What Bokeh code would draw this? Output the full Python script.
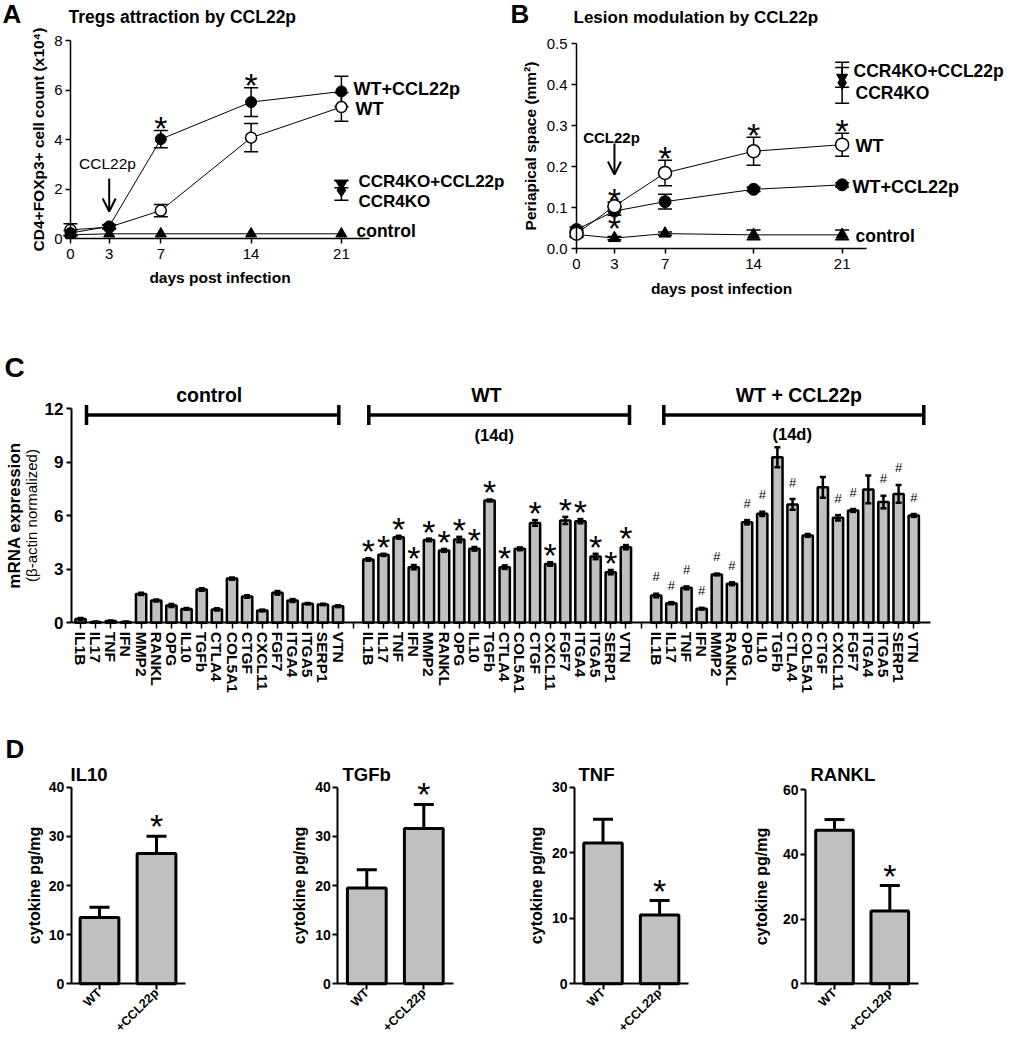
import math
from bokeh.plotting import figure
from bokeh.models import (Range1d, LinearAxis, FixedTicker, Label, Arrow, OpenHead,
                          PrintfTickFormatter)
from bokeh.layouts import row, column
from bokeh.embed import file_html
from bokeh.resources import INLINE
from bokeh.core.properties import value

FONT = "Liberation Sans"
BAR_FILL = "#c0c0c0"

# ---------------- Panel A data ----------------
days = [0, 3, 7, 14, 21]
a_yticks = [0, 2, 4, 6, 8]
a_wt_ccl = [0.22, 0.49, 4.02, 5.52, 5.95]
a_wt_ccl_err = [0.10, 0.08, 0.35, 0.58, 0.62]
a_wt = [0.35, 0.46, 1.13, 4.08, 5.32]
a_wt_err = [0.25, 0.08, 0.25, 0.57, 0.58]
a_ctrl = [0.15, 0.19, 0.19, 0.19, 0.19]
a_ko_ccl = [2.20]
a_ko_ccl_err = [0.15]
a_ko = [1.95]
a_ko_err = [0.40]
a_star_days = [7, 14]

# ---------------- Panel B data ----------------
b_yticks = [0.0, 0.1, 0.2, 0.3, 0.4, 0.5]
b_wt = [0.037, 0.104, 0.185, 0.238, 0.254]
b_wt_err = [0.008, 0.010, 0.031, 0.034, 0.028]
b_wt_ccl = [0.047, 0.092, 0.115, 0.145, 0.156]
b_wt_ccl_err = [0.006, 0.010, 0.018, 0.005, 0.005]
b_ctrl = [0.035, 0.026, 0.037, 0.034, 0.034]
b_ctrl_err = [0.005, 0.004, 0.004, 0.012, 0.012]
b_ko_ccl = [0.418]
b_ko_ccl_err = [0.024]
b_ko = [0.405]
b_ko_err = [0.050]
b_star_days_up = [3, 7, 14, 21]
b_star_days_down = [3]

# ---------------- Panel C data ----------------
genes = ["IL1B", "IL17", "TNF", "IFN", "MMP2", "RANKL", "OPG", "IL10", "TGFb",
         "CTLA4", "COL5A1", "CTGF", "CXCL11", "FGF7", "ITGA4", "ITGA5", "SERP1", "VTN"]
c_yticks = [0, 3, 6, 9, 12]
c_ctrl = [0.22, 0.05, 0.10, 0.05, 1.62, 1.25, 0.97, 0.78, 1.87, 0.75, 2.48, 1.48,
          0.69, 1.68, 1.25, 1.07, 1.03, 0.93]
c_ctrl_err = [0.05, 0.02, 0.03, 0.02, 0.06, 0.06, 0.08, 0.05, 0.07, 0.06, 0.06, 0.07,
              0.05, 0.10, 0.08, 0.04, 0.04, 0.05]
c_wt = [3.55, 3.81, 4.80, 3.12, 4.65, 4.06, 4.67, 4.15, 6.86, 3.12, 4.15, 5.60,
        3.30, 5.74, 5.70, 3.72, 2.84, 4.24]
c_wt_err = [0.07, 0.06, 0.08, 0.12, 0.07, 0.08, 0.15, 0.10, 0.06, 0.10, 0.08, 0.16,
            0.10, 0.20, 0.12, 0.15, 0.12, 0.12]
c_wt_star = [1, 1, 1, 1, 1, 1, 1, 1, 1, 1, 0, 1, 1, 1, 1, 1, 1, 1]
c_ccl = [1.53, 1.10, 1.96, 0.79, 2.71, 2.19, 5.64, 6.11, 9.29, 6.64, 4.90, 7.60,
         5.89, 6.30, 7.48, 6.77, 7.23, 6.02]
c_ccl_err = [0.10, 0.06, 0.08, 0.05, 0.05, 0.08, 0.12, 0.12, 0.56, 0.30, 0.08, 0.58,
             0.15, 0.08, 0.78, 0.35, 0.50, 0.08]
c_ccl_hash = [1, 1, 1, 1, 1, 1, 1, 1, 0, 1, 0, 0, 1, 1, 0, 1, 1, 1]
c_groups = ["control", "WT", "WT + CCL22p"]

# ---------------- Panel D data ----------------
d_names = ["IL10", "TGFb", "TNF", "RANKL"]
d_cats = ["WT", "+CCL22p"]
d_wt = [13.5, 19.5, 21.5, 47.5]
d_wt_err = [2.1, 3.7, 3.6, 3.3]
d_ccl = [26.5, 31.6, 10.5, 22.5]
d_ccl_err = [3.5, 4.9, 2.2, 7.9]
d_yticks = [[0, 10, 20, 30, 40], [0, 10, 20, 30, 40], [0, 10, 20, 30], [0, 20, 40, 60]]


# ---------------- helpers ----------------
def make_fig(Lf, W, ox, sx, Tf, H, oy, sy):
    """Figure whose frame is the whole canvas; pixel -> data maps."""
    p = figure(width=W, height=H,
               x_range=Range1d((Lf - ox) / sx, (Lf + W - ox) / sx),
               y_range=Range1d((oy - (Tf + H)) / sy, (oy - Tf) / sy),
               output_backend="svg", toolbar_location=None, title=None,
               x_axis_type=None, y_axis_type=None,
               min_border_left=0, min_border_right=0, min_border_top=0,
               min_border_bottom=0, outline_line_color=None,
               background_fill_color="white", border_fill_color="white")
    return p, (lambda px: (px - ox) / sx), (lambda py: (oy - py) / sy)


def style_axis(ax, size, bold, tick_out, standoff, lw=1.5, tick_lw=None,
               lab_size=15.5, lab_standoff=5):
    ax.axis_line_color = "black"
    ax.axis_line_width = lw
    ax.major_tick_line_color = "black"
    ax.major_tick_line_width = tick_lw if tick_lw else lw
    ax.major_tick_out = tick_out
    ax.major_tick_in = 0
    ax.minor_tick_line_color = None
    ax.major_label_text_font = FONT
    ax.major_label_text_font_size = f"{size}px"
    ax.major_label_text_font_style = "bold" if bold else "normal"
    ax.major_label_text_color = "black"
    ax.major_label_standoff = standoff
    ax.axis_label_text_font = FONT
    ax.axis_label_text_font_size = f"{lab_size}px"
    ax.axis_label_text_font_style = "bold"
    ax.axis_label_text_color = "black"
    ax.axis_label_standoff = lab_standoff


def label(p, x, y, text, size, bold=True, align="left", baseline="middle", angle=0.0):
    p.add_layout(Label(x=x, y=y, text=text, text_font=FONT, text_font_size=f"{size}px",
                       text_font_style="bold" if bold else "normal", text_color="black",
                       text_align=align, text_baseline=baseline, angle=angle))


def errbars(p, xs, ys, es, cap, lw, up_only=False):
    hi = [y + e for y, e in zip(ys, es)]
    lo = list(ys) if up_only else [y - e for y, e in zip(ys, es)]
    p.segment(x0=xs, y0=lo, x1=xs, y1=hi, line_color="black", line_width=lw)
    p.scatter(xs, hi, marker="dash", size=cap, line_color="black", line_width=lw)
    if not up_only:
        p.scatter(xs, lo, marker="dash", size=cap, line_color="black", line_width=lw)


def marks(p, xs, ys, txt, size, yoff, bold=False):
    p.text(x=xs, y=ys, text=[txt] * len(xs), text_font=value(FONT),
           text_font_size=f"{size}px", text_font_style="bold" if bold else "normal",
           text_align="center", text_baseline="alphabetic", y_offset=yoff,
           text_color="black")


# ================= Panel A =================
pA, XA, YA = make_fig(Lf=0, W=508, ox=70, sx=12.9, Tf=0, H=305, oy=238, sy=24.71)
xa = LinearAxis(fixed_location=0, bounds=(0, 23.2), ticker=FixedTicker(ticks=days),
                axis_label="days post infection")
style_axis(xa, 15, False, 5, 5, lab_standoff=7)
pA.add_layout(xa, "below")
ya = LinearAxis(fixed_location=0, bounds=(0, 8), ticker=FixedTicker(ticks=a_yticks),
                axis_label="CD4+FOXp3+ cell count (x10⁴)")
style_axis(ya, 15, False, 5, 3, lab_standoff=4)
pA.add_layout(ya, "left")

for ser in (a_wt_ccl, a_wt, a_ctrl):
    pA.line(days, ser, line_color="black", line_width=1)
errbars(pA, days, a_wt_ccl, a_wt_ccl_err, 14, 1.5)
errbars(pA, days, a_wt, a_wt_err, 14, 1.5)
errbars(pA, [21], a_ko_ccl, a_ko_ccl_err, 14, 1.5)
errbars(pA, [21], a_ko, a_ko_err, 14, 1.5)
pA.scatter(days, a_ctrl, marker="triangle", size=11, color="black")
pA.scatter(days, a_wt, marker="circle", size=11, fill_color="white",
           line_color="black", line_width=1.5)
pA.scatter(days, a_wt_ccl, marker="circle", size=11, color="black")
pA.scatter([21], a_ko_ccl, marker="inverted_triangle", size=11, color="black")
pA.scatter([21], a_ko, marker="diamond", size=13, color="black")
sA = [(d, v + e) for d, v, e in zip(days, a_wt_ccl, a_wt_ccl_err) if d in a_star_days]
marks(pA, [s[0] for s in sA], [s[1] for s in sA], "*", 34, -3)

label(pA, XA(2), YA(-1.5), "A", 26, baseline="top")
label(pA, XA(68), YA(16), "Tregs attraction by CCL22p", 17.5)
label(pA, XA(107), YA(163), "CCL22p", 15.5, bold=False, align="center")
pA.add_layout(Arrow(end=OpenHead(size=13, line_width=2, line_color="black"),
                    x_start=3, y_start=YA(178), x_end=3, y_end=YA(211),
                    line_width=2, line_color="black"))
label(pA, XA(353), YA(88), "WT+CCL22p", 18)
label(pA, XA(355), YA(108), "WT", 18)
label(pA, XA(358), YA(181), "CCR4KO+CCL22p", 17)
label(pA, XA(358), YA(201), "CCR4KO", 17)
label(pA, XA(356), YA(230), "control", 17.5)

# ================= Panel B =================
pB, XB, YB = make_fig(Lf=508, W=510, ox=576, sx=12.65, Tf=0, H=305, oy=248.3, sy=410)
xb = LinearAxis(fixed_location=0, bounds=(0, 22.9), ticker=FixedTicker(ticks=days),
                axis_label="days post infection")
style_axis(xb, 15, False, 5, 5, lab_standoff=8)
pB.add_layout(xb, "below")
yb = LinearAxis(fixed_location=0, bounds=(0, 0.5), ticker=FixedTicker(ticks=b_yticks),
                formatter=PrintfTickFormatter(format="%.1f"),
                axis_label="Periapical space (mm²)")
style_axis(yb, 15, False, 5, 4, lab_standoff=5)
pB.add_layout(yb, "left")

for ser in (b_wt, b_wt_ccl, b_ctrl):
    pB.line(days, ser, line_color="black", line_width=1)
errbars(pB, days, b_wt, b_wt_err, 14, 1.5)
errbars(pB, days, b_wt_ccl, b_wt_ccl_err, 14, 1.5)
errbars(pB, days, b_ctrl, b_ctrl_err, 14, 1.5)
errbars(pB, [21], b_ko_ccl, b_ko_ccl_err, 14, 1.5)
errbars(pB, [21], b_ko, b_ko_err, 14, 1.5)
pB.scatter(days, b_ctrl, marker="triangle", size=12, color="black")
pB.scatter(days, b_wt_ccl, marker="circle", size=12, color="black")
pB.scatter(days, b_wt, marker="circle", size=13, fill_color="white",
           line_color="black", line_width=1.5)
pB.scatter([21], b_ko_ccl, marker="inverted_triangle", size=11, color="black")
pB.scatter([21], b_ko, marker="diamond", size=13, color="black")
sBu = [(d, v + e) for d, v, e in zip(days, b_wt, b_wt_err) if d in b_star_days_up]
marks(pB, [s[0] for s in sBu], [s[1] for s in sBu], "*", 34, -2)
sBd = [(d, v - e) for d, v, e in zip(days, b_wt_ccl, b_wt_ccl_err) if d in b_star_days_down]
marks(pB, [s[0] for s in sBd], [s[1] for s in sBd], "*", 34, 13)

label(pB, XB(510), YB(-1.5), "B", 26, baseline="top")
label(pB, XB(573), YB(17), "Lesion modulation by CCL22p", 17)
label(pB, XB(611), YB(137), "CCL22p", 15, align="center")
pB.add_layout(Arrow(end=OpenHead(size=13, line_width=2, line_color="black"),
                    x_start=3, y_start=YB(143), x_end=3, y_end=YB(174),
                    line_width=2, line_color="black"))
label(pB, XB(853), YB(70), "CCR4KO+CCL22p", 17.5)
label(pB, XB(855), YB(92), "CCR4KO", 17.5)
label(pB, XB(855), YB(145), "WT", 18)
label(pB, XB(852), YB(186), "WT+CCL22p", 18)
label(pB, XB(855), YB(235), "control", 17.5)

# ================= Panel C =================
pC, XC, YC = make_fig(Lf=0, W=1018, ox=80, sx=15.15, Tf=305, H=395, oy=622.3, sy=17.83)
n = len(genes)
slots = [list(range(0, n)), list(range(n + 1, 2 * n + 1)), list(range(2 * n + 2, 3 * n + 2))]
overrides = {}
for grp in slots:
    for i, s in enumerate(grp):
        overrides[s] = genes[i]
overrides[n] = ""
overrides[2 * n + 1] = ""
xc = LinearAxis(fixed_location=0, bounds=(XC(71), XC(930)),
                ticker=FixedTicker(ticks=list(range(0, 3 * n + 2))),
                major_label_overrides=overrides, major_label_orientation="vertical")
style_axis(xc, 15.5, True, 6, 3, lw=2, tick_lw=1.5)
pC.add_layout(xc, "below")
yc = LinearAxis(fixed_location=XC(71), bounds=(0, 12), ticker=FixedTicker(ticks=c_yticks),
                axis_label="mRNA expression")
style_axis(yc, 17, True, 5, 3, lw=2, lab_size=17, lab_standoff=18)
pC.add_layout(yc, "left")

for grp, vals, errs in zip(slots, (c_ctrl, c_wt, c_ccl), (c_ctrl_err, c_wt_err, c_ccl_err)):
    pC.vbar(x=grp, top=vals, bottom=0, width=0.68, fill_color=BAR_FILL,
            line_color="black", line_width=2.5)
    errbars(pC, grp, vals, errs, 6, 2.5)
sC = [(s, v + e) for s, v, e, f in zip(slots[1], c_wt, c_wt_err, c_wt_star) if f]
marks(pC, [s[0] for s in sC], [s[1] for s in sC], "*", 34, -7)
hC = [(s, v + e) for s, v, e, f in zip(slots[2], c_ccl, c_ccl_err, c_ccl_hash) if f]
marks(pC, [s[0] for s in hC], [s[1] for s in hC], "#", 13, -17)

br_y = YC(414.5)
br_cap = 10 / 17.83
br_x = [(XC(86), XC(338.3)), (XC(368.3), XC(629)), (XC(663.3), XC(923.3))]
pC.segment(x0=[a for a, b in br_x], y0=[br_y] * 3, x1=[b for a, b in br_x], y1=[br_y] * 3,
           line_color="black", line_width=3.5)
ends = [v for ab in br_x for v in ab]
pC.segment(x0=ends, y0=[br_y - br_cap] * 6, x1=ends, y1=[br_y + br_cap] * 6,
           line_color="black", line_width=3.5)
for txt, px in zip(c_groups, (208.7, 486, 798.3)):
    label(pC, XC(px), YC(394.5), txt, 19.5, align="center")
label(pC, XC(493.7), YC(434), "(14d)", 16.5, align="center")
label(pC, XC(791.7), YC(433), "(14d)", 16.5, align="center")
label(pC, XC(4), YC(351.5), "C", 28, baseline="top")
label(pC, XC(31), YC(515), "(β-actin normalized)", 15, bold=False, align="center",
      angle=math.pi / 2)

# ================= Panel D =================
DY = -5  # whole row D sits 5 px higher so that the slanted labels fit
d_geom = [  # Lf, W, ox, sx, sy, y-axis px, x-axis end px, title px, ylabel standoff
    (0, 270, 42.0, 57.0, 4.915, 70.7, 185.0, 70, 3),
    (270, 245, 309.3, 57.0, 4.915, 337.3, 453.3, 342, 4),
    (515, 225, 545.9, 56.6, 6.553, 574.0, 688.3, 578, 4),
    (740, 278, 778.7, 55.3, 3.233, 805.0, 918.3, 810, 10),
]
pDs = []
for k, (Lf, W, ox, sx, sy, yax, aend, tx, lst) in enumerate(d_geom):
    p, XD, YD = make_fig(Lf=Lf, W=W, ox=ox, sx=sx, Tf=700, H=334, oy=988.3 + DY, sy=sy)
    xd = LinearAxis(fixed_location=0, bounds=(XD(yax), XD(aend)),
                    ticker=FixedTicker(ticks=[1, 2]),
                    major_label_overrides={1: d_cats[0], 2: d_cats[1]},
                    major_label_orientation=math.pi / 4)
    style_axis(xd, 12.5, True, 6, 1, lw=2)
    p.add_layout(xd, "below")
    ticks = d_yticks[k]
    yd = LinearAxis(fixed_location=XD(yax), bounds=(0, ticks[-1]),
                    ticker=FixedTicker(ticks=ticks), axis_label="cytokine pg/mg")
    style_axis(yd, 14, True, 5, 2, lw=2, lab_size=16, lab_standoff=lst)
    p.add_layout(yd, "left")
    vals = [d_wt[k], d_ccl[k]]
    errs = [d_wt_err[k], d_ccl_err[k]]
    errbars(p, [1, 2], vals, errs, 20, 3, up_only=True)
    p.vbar(x=[1, 2], top=vals, bottom=0, width=0.68, fill_color=BAR_FILL,
           line_color="black", line_width=3)
    marks(p, [2], [d_ccl[k] + d_ccl_err[k]], "*", 34, -10)
    label(p, XD(tx), YD(779 + DY), d_names[k], 18.5)
    if k == 0:
        label(p, XD(5), YD(738 + DY), "D", 26, baseline="top")
    pDs.append(p)

layout = column(row(pA, pB), pC, row(*pDs))
open("out.html", "w").write(file_html(layout, INLINE))
